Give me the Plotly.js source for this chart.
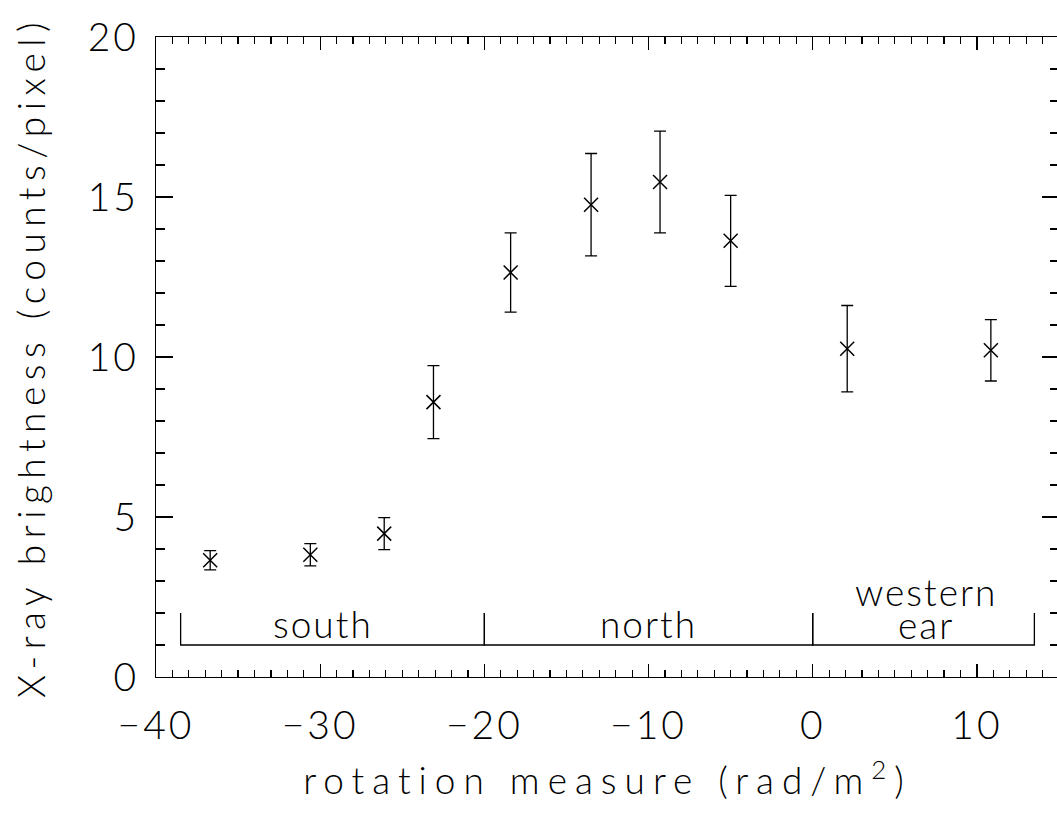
<!DOCTYPE html>
<html>
<head>
<meta charset="utf-8">
<script src="https://cdn.plot.ly/plotly-3.0.1.min.js"></script>
<style>
html,body{margin:0;padding:0;overflow:hidden;background:#fff;width:1057px;height:813px;}
#chart{width:1062px;height:813px;}
#chart .xtitle{letter-spacing:8px;}
#chart .ytitle{letter-spacing:6.5px;}
#chart .annotation-text{letter-spacing:2px;}
#chart .xtick text, #chart .ytick text{letter-spacing:3px;}
</style>
</head>
<body>
<div id="chart"></div>
<script>
// Data
const rotationMeasure = [-36.7, -30.6, -26.1, -23.1, -18.4, -13.5, -9.3, -5.0, 2.1, 10.85];
const brightness      = [3.65, 3.82, 4.48, 8.59, 12.64, 14.76, 15.47, 13.63, 10.26, 10.21];
const brightnessErr   = [0.30, 0.35, 0.50, 1.14, 1.24, 1.60, 1.59, 1.42, 1.35, 0.96];

// Region brackets
const regionNames  = ["south", "north", "western", "ear"];
const regionStart  = [-38.5, -20, 0];
const regionEnd    = [-20, 0, 13.5];
const labelX       = [-29.85, -10, 6.9, 6.9];
const labelY       = [1.68, 1.68, 2.67, 1.65];
const bracketLow = 1, bracketHigh = 2;

// build bracket path
const bx = [], by = [];
for (let i = 0; i < regionStart.length; i++) {
  bx.push(regionStart[i], regionStart[i], regionEnd[i], regionEnd[i], null);
  by.push(bracketHigh, bracketLow, bracketLow, bracketHigh, null);
}

const FONT = "Lato";
const traces = [
  {
    x: bx, y: by, mode: "lines", type: "scatter",
    line: {color: "#000", width: 1.3}, hoverinfo: "skip", showlegend: false
  },
  {
    x: rotationMeasure, y: brightness, type: "scatter", mode: "markers",
    marker: {symbol: "x-thin-open", size: 14, color: "#000", line: {color: "#000", width: 1.5}},
    error_y: {type: "data", array: brightnessErr, visible: true, color: "#000", thickness: 1.3, width: 6},
    showlegend: false
  },
  {
    x: [-40, 15], y: [0, 20], xaxis: "x2", yaxis: "y2", mode: "markers",
    marker: {opacity: 0}, hoverinfo: "skip", showlegend: false, type: "scatter"
  }
];

const tickFont = {family: FONT, size: 39, color: "#000", weight: 300};
const axisCommon = {
  showgrid: false, zeroline: false, showline: true, linecolor: "#000", linewidth: 1.2,
  ticks: "inside", tickcolor: "#000", tickwidth: 1.2
};

const layout = {
  width: 1062, height: 813,
  margin: {l: 156, r: 3, t: 37, b: 136},
  paper_bgcolor: "#fff", plot_bgcolor: "#fff",
  font: {family: FONT, color: "#000", weight: 300},
  xaxis: Object.assign({}, axisCommon, {
    range: [-40, 15], dtick: 10, tick0: 0, ticklen: 13,
    minor: {dtick: 1, ticklen: 7, ticks: "inside", tickcolor: "#000", tickwidth: 1.2},
    tickfont: tickFont, ticklabelstandoff: 14,
    title: {text: "rotation measure (rad/m<sup>2</sup>)", font: {family: FONT, size: 37, color: "#000", weight: 300}, standoff: 22}
  }),
  yaxis: Object.assign({}, axisCommon, {
    range: [0, 20], dtick: 5, tick0: 0, ticklen: 17,
    minor: {dtick: 1, ticklen: 9, ticks: "inside", tickcolor: "#000", tickwidth: 1.2},
    tickfont: tickFont, ticklabelstandoff: 8,
    title: {text: "X-ray brightness (counts/pixel)", font: {family: FONT, size: 37, color: "#000", weight: 300}, standoff: 36}
  }),
  xaxis2: Object.assign({}, axisCommon, {
    overlaying: "x", side: "top", range: [-40, 15], dtick: 10, tick0: 0, ticklen: 13,
    minor: {dtick: 1, ticklen: 7, ticks: "inside", tickcolor: "#000", tickwidth: 1.2},
    showticklabels: false
  }),
  yaxis2: Object.assign({}, axisCommon, {
    overlaying: "y", side: "right", range: [0, 20], dtick: 5, tick0: 0, ticklen: 17,
    minor: {dtick: 1, ticklen: 9, ticks: "inside", tickcolor: "#000", tickwidth: 1.2},
    showticklabels: false
  }),
  annotations: regionNames.map((n, i) => ({
    x: labelX[i], y: labelY[i], xref: "x", yref: "y", text: n, showarrow: false,
    font: {family: FONT, size: 37, color: "#000", weight: 300}, xanchor: "center", yanchor: "middle"
  }))
};

Plotly.newPlot("chart", traces, layout, {displayModeBar: false, staticPlot: true});
</script>
</body>
</html>
